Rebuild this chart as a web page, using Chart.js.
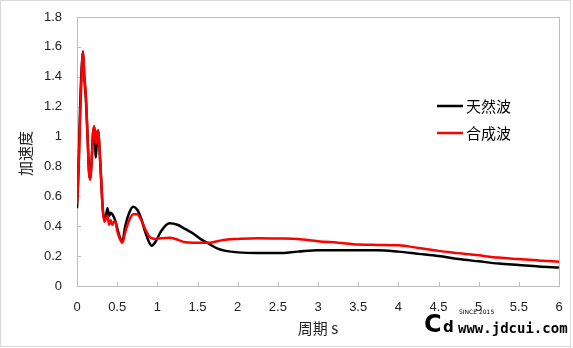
<!DOCTYPE html>
<html>
<head>
<meta charset="utf-8">
<script src="https://cdn.jsdelivr.net/npm/chart.js@4/dist/chart.umd.min.js"></script>
<style>
  html, body { margin: 0; padding: 0; background: #fff; }
</style>
</head>
<body>
<canvas id="chart" width="573" height="348"></canvas>
<script>
// periods (s)
const periods = [0, 0.02, 0.04, 0.06, 0.075, 0.09, 0.11, 0.13, 0.15, 0.165, 0.18, 0.2, 0.215, 0.235, 0.25, 0.265, 0.28, 0.3, 0.32, 0.34, 0.36, 0.38, 0.4, 0.42, 0.44, 0.46, 0.48, 0.5, 0.53, 0.565,
  0.6, 0.65, 0.7, 0.75, 0.8, 0.85, 0.9, 0.93, 0.97, 1.05, 1.15, 1.25, 1.35, 1.45, 1.55, 1.65, 1.75, 1.85, 2.0, 2.25, 2.5, 2.75, 3.0, 3.25, 3.5, 3.75, 4.0, 4.25, 4.5, 4.75, 5.0, 5.25, 5.5, 5.75, 6.0];

// 天然波
const naturalWave = [0.52, 0.80, 1.22, 1.48, 1.57, 1.40, 1.26, 1.02, 0.76, 0.72, 0.82, 1.03, 1.06, 0.86, 1.00, 1.04, 0.92, 0.72, 0.52, 0.44, 0.47, 0.52, 0.47, 0.49, 0.48, 0.46, 0.43, 0.39, 0.33, 0.30,
  0.40, 0.49, 0.53, 0.51, 0.45, 0.36, 0.29, 0.27, 0.29, 0.37, 0.42, 0.41, 0.38, 0.35, 0.31, 0.28, 0.25, 0.235, 0.225, 0.22, 0.22, 0.23, 0.24, 0.24, 0.24, 0.24, 0.23, 0.215, 0.20, 0.18, 0.165, 0.15, 0.14, 0.13, 0.123];

// 合成波
const syntheticWave = [0.55, 0.78, 1.15, 1.45, 1.56, 1.42, 1.28, 1.02, 0.76, 0.71, 0.80, 1.02, 1.07, 0.95, 1.03, 1.04, 0.92, 0.72, 0.52, 0.43, 0.45, 0.47, 0.41, 0.44, 0.41, 0.43, 0.43, 0.37, 0.32, 0.29,
  0.36, 0.44, 0.48, 0.48, 0.44, 0.38, 0.33, 0.32, 0.315, 0.32, 0.323, 0.31, 0.292, 0.29, 0.29, 0.29, 0.30, 0.31, 0.315, 0.32, 0.318, 0.315, 0.30, 0.29, 0.278, 0.275, 0.272, 0.255, 0.235, 0.22, 0.205, 0.19, 0.18, 0.17, 0.163];

const seriesNames = ['天然波', '合成波'];
const seriesColours = ['#000000', '#ff0000'];

const xTitle = '周期 s';
const yTitle = '加速度';

const cjkFont = '"Noto Sans CJK SC", sans-serif';
const numFont = '"Liberation Sans", Arial, sans-serif';

function toPoints(values) {
    return periods.map((p, i) => ({ x: p, y: values[i] }));
}

// ticks like Excel: 0, 0.5, 1, 1.5 ...
function tickText(value) {
    return String(parseFloat(Number(value).toFixed(1)));
}

// frame, inside tick marks, titles, legend and watermark
const decorations = {
    id: 'decorations',
    beforeDatasetsDraw(chart) {
        const ctx = chart.ctx;
        const a = chart.chartArea;
        const xs = chart.scales.x;
        const ys = chart.scales.y;
        ctx.save();
        // outer chart border
        ctx.strokeStyle = '#d9d9d9';
        ctx.lineWidth = 1;
        ctx.strokeRect(0.5, 0.5, 570, 346);
        // plot frame
        ctx.strokeStyle = '#bfbfbf';
        ctx.strokeRect(Math.round(a.left) + 0.5, Math.round(a.top) + 0.5, Math.round(a.right - a.left), Math.round(a.bottom - a.top));
        ctx.beginPath();
        xs.ticks.forEach(t => {
            const px = Math.round(xs.getPixelForValue(t.value)) + 0.5;
            ctx.moveTo(px, a.bottom);
            ctx.lineTo(px, a.bottom - 4);
        });
        ys.ticks.forEach(t => {
            const py = Math.round(ys.getPixelForValue(t.value)) + 0.5;
            ctx.moveTo(a.left, py);
            ctx.lineTo(a.left + 4, py);
        });
        ctx.stroke();
        ctx.restore();
    },
    afterDraw(chart) {
        const ctx = chart.ctx;
        const a = chart.chartArea;
        ctx.save();
        ctx.fillStyle = '#222';
        ctx.font = '15px ' + cjkFont;
        ctx.textAlign = 'center';
        ctx.textBaseline = 'middle';
        ctx.fillText(xTitle, (a.left + a.right) / 2, 328);
        ctx.save();
        ctx.translate(25, (a.top + a.bottom) / 2 + 2);
        ctx.rotate(-Math.PI / 2);
        ctx.fillText(yTitle, 0, 0);
        ctx.restore();

        // legend
        const legendY = [106, 133];
        seriesNames.forEach((name, i) => {
            ctx.strokeStyle = seriesColours[i];
            ctx.lineWidth = 2.5;
            ctx.beginPath();
            ctx.moveTo(437, legendY[i]);
            ctx.lineTo(463, legendY[i]);
            ctx.stroke();
            ctx.fillStyle = '#000';
            ctx.textAlign = 'left';
            ctx.fillText(name, 466, legendY[i]);
        });

        // watermark
        ctx.fillStyle = '#000';
        ctx.textAlign = 'left';
        ctx.textBaseline = 'alphabetic';
        ctx.font = 'bold 24px "DejaVu Sans", sans-serif';
        ctx.fillText('C', 424, 332);
        ctx.font = 'bold 15px "DejaVu Sans", sans-serif';
        ctx.fillText('d', 443, 332);
        ctx.font = '6px "DejaVu Sans", sans-serif';
        ctx.fillText('SINCE 2015', 459, 314);
        ctx.font = 'bold 14px "DejaVu Sans Mono", monospace';
        ctx.fillText('www.jdcui.com', 458, 333);
        ctx.restore();
    }
};

const ctx = document.getElementById('chart').getContext('2d');
new Chart(ctx, {
    type: 'line',
    data: {
        datasets: [
            {
                label: seriesNames[0],
                data: toPoints(naturalWave),
                borderColor: seriesColours[0],
                borderWidth: 2.5,
                pointRadius: 0,
                cubicInterpolationMode: 'monotone',
                order: 2
            },
            {
                label: seriesNames[1],
                data: toPoints(syntheticWave),
                borderColor: seriesColours[1],
                borderWidth: 2.5,
                pointRadius: 0,
                cubicInterpolationMode: 'monotone',
                order: 1
            }
        ]
    },
    options: {
        responsive: false,
        animation: false,
        devicePixelRatio: 1,
        layout: { padding: { left: 0, right: 14, top: 17, bottom: 0 } },
        plugins: {
            legend: { display: false },
            tooltip: { enabled: false }
        },
        scales: {
            x: {
                type: 'linear',
                min: 0,
                max: 6,
                border: { display: false },
                grid: { display: false, drawTicks: false },
                ticks: {
                    stepSize: 0.5,
                    padding: 14,
                    maxRotation: 0,
                    color: '#222',
                    font: { family: numFont, size: 13 },
                    callback: tickText
                },
                afterFit(scale) {
                    scale.height = 62;
                    scale.paddingLeft = 0;
                    scale.paddingRight = 0;
                }
            },
            y: {
                min: 0,
                max: 1.8,
                border: { display: false },
                grid: { display: false, drawTicks: false },
                ticks: {
                    stepSize: 0.2,
                    padding: 15,
                    color: '#222',
                    font: { family: numFont, size: 13 },
                    callback: tickText
                },
                afterFit(scale) {
                    scale.width = 77;
                    scale.paddingTop = 0;
                    scale.paddingBottom = 0;
                }
            }
        }
    },
    plugins: [decorations]
});
</script>
</body>
</html>
